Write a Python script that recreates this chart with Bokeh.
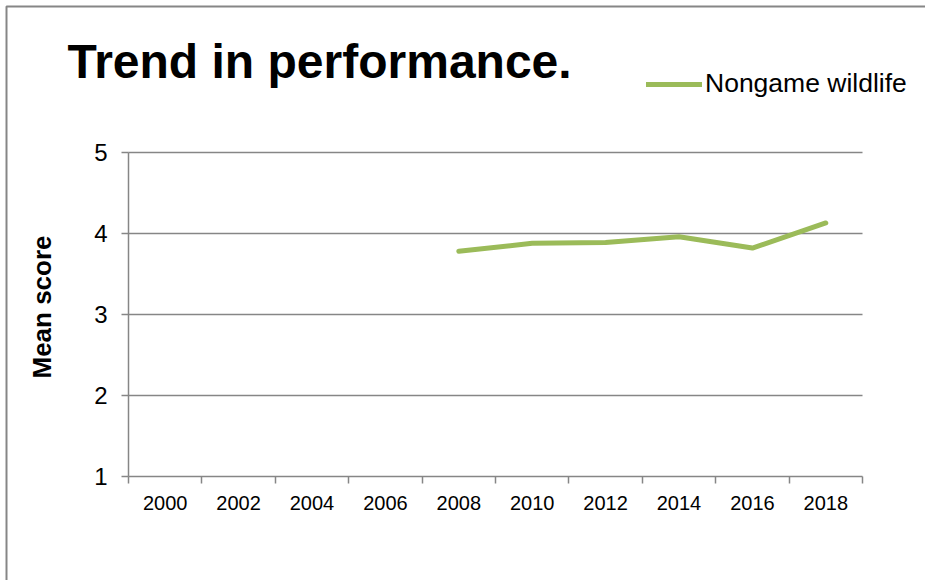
import math
from bokeh.plotting import figure
from bokeh.models import Range1d, FixedTicker, Label, Legend, LegendItem, BoxAnnotation
from bokeh.embed import file_html
from bokeh.resources import INLINE

# ---- data ----
years = [2008, 2010, 2012, 2014, 2016, 2018]
mean_score = [3.78, 3.88, 3.89, 3.96, 3.82, 4.13]
tick_years = [2000, 2002, 2004, 2006, 2008, 2010, 2012, 2014, 2016, 2018]
y_ticks = [1, 2, 3, 4, 5]
series_name = "Nongame wildlife"
title_text = "Trend in performance."
y_label = "Mean score"

GRAY = "#868686"
GREEN = "#9BBB59"
FONT = "Liberation Sans"

W, H = 925, 580
# plot-area placement on the canvas (pixels)
PL, PR, PT, PB = 128, 862, 152, 476

x_lo, x_hi = tick_years[0] - 1, tick_years[-1] + 1
y_lo, y_hi = y_ticks[0], y_ticks[-1]
xpx = (PR - PL) / (x_hi - x_lo)
ypx = (PB - PT) / (y_hi - y_lo)
x_range = Range1d(x_lo - PL / xpx, x_hi + (W - PR) / xpx)
y_range = Range1d(y_lo - (H - PB) / ypx, y_hi + PT / ypx)

boundaries = [x_lo] + [t + 1 for t in tick_years]

p = figure(width=W, height=H, output_backend="svg", toolbar_location=None,
           x_range=x_range, y_range=y_range, min_border=0)
p.outline_line_color = None
p.background_fill_color = "white"
p.border_fill_color = "white"

# x axis
p.xaxis.fixed_location = y_lo
p.xaxis.bounds = (x_lo, x_hi)
p.xaxis.ticker = FixedTicker(ticks=tick_years, minor_ticks=boundaries)
p.xaxis.major_tick_out = 0
p.xaxis.major_tick_in = 0
p.xaxis.minor_tick_out = 7
p.xaxis.minor_tick_in = 0
p.xaxis.minor_tick_line_color = GRAY
p.xaxis.minor_tick_line_width = 1.5
p.xaxis.axis_line_color = GRAY
p.xaxis.axis_line_width = 1.5
p.xaxis.major_label_text_font = FONT
p.xaxis.major_label_text_font_size = "20px"
p.xaxis.major_label_text_color = "black"
p.xaxis.major_label_standoff = 12

# y axis
p.yaxis.fixed_location = x_lo
p.yaxis.bounds = (y_lo, y_hi)
p.yaxis.ticker = FixedTicker(ticks=y_ticks)
p.yaxis.major_tick_out = 7
p.yaxis.major_tick_in = 0
p.yaxis.minor_tick_line_color = None
p.yaxis.major_tick_line_color = GRAY
p.yaxis.major_tick_line_width = 1.5
p.yaxis.axis_line_color = GRAY
p.yaxis.axis_line_width = 1.5
p.yaxis.major_label_text_font = FONT
p.yaxis.major_label_text_font_size = "24px"
p.yaxis.major_label_text_color = "black"
p.yaxis.major_label_standoff = 14

# horizontal gridlines across the plot area only
p.xgrid.grid_line_color = None
p.ygrid.grid_line_color = None
gy = y_ticks[1:]
p.segment(x0=[x_lo] * len(gy), x1=[x_hi] * len(gy), y0=gy, y1=gy,
          line_color=GRAY, line_width=1.5)

r = p.line(years, mean_score, line_width=5, line_color=GREEN,
           line_cap="round", line_join="round")

legend = Legend(items=[LegendItem(label=series_name, renderers=[r])],
                location=(646, 481), border_line_color=None,
                background_fill_alpha=0, padding=0, margin=0,
                glyph_width=56, glyph_height=20, label_standoff=3,
                label_text_font=FONT, label_text_font_size="26.5px",
                label_text_color="black")
p.add_layout(legend)

title = Label(x=67, y=H - 61, x_units="screen", y_units="screen", text=title_text,
              text_font=FONT, text_font_size="48px", text_font_style="bold",
              text_baseline="alphabetic", text_color="black")
p.add_layout(title)

ylab = Label(x=41, y=H - 306.5, x_units="screen", y_units="screen", text=y_label,
             angle=math.pi / 2, text_align="center", text_baseline="alphabetic",
             text_font=FONT, text_font_size="26px", text_font_style="bold",
             text_color="black")
p.add_layout(ylab)

border = BoxAnnotation(left=6, right=W + 100, top=H - 6, bottom=-100,
                       left_units="screen", right_units="screen",
                       top_units="screen", bottom_units="screen",
                       fill_color=None, fill_alpha=0, line_color=GRAY,
                       line_alpha=1.0, line_width=2)
p.add_layout(border)

open("out.html", "w").write(file_html(p, INLINE))
